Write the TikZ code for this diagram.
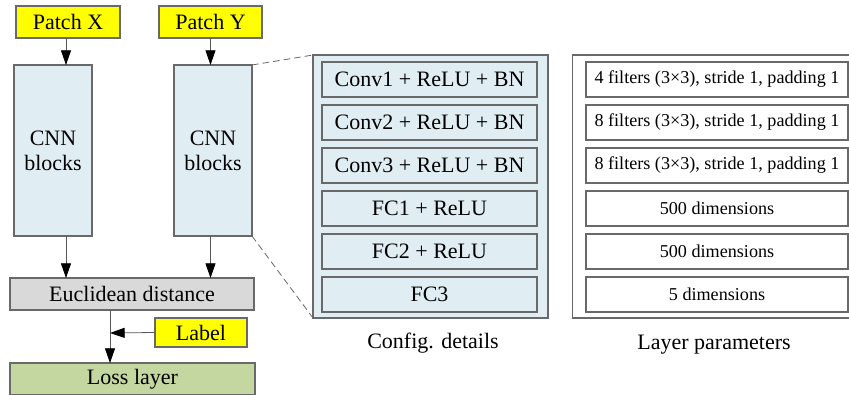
\documentclass[tikz,border=0pt]{standalone}
\usepackage{fontspec}
\setmainfont{Liberation Serif}
\usepackage{tikz}
\usetikzlibrary{arrows.meta}

\definecolor{patchyellow}{RGB}{255,255,0}
\definecolor{blockblue}{RGB}{224,238,244}
\definecolor{distgray}{RGB}{217,217,217}
\definecolor{lossgreen}{RGB}{197,215,160}
\definecolor{edgegray}{RGB}{105,105,105}

\tikzset{
  sz/.style 2 args={minimum width=#1*0.75pt,minimum height=#2*0.75pt},
  blk/.style={draw=edgegray,line width=0.8pt,inner sep=0pt,outer sep=0pt,align=center,
    font=\fontsize{16.5}{19}\selectfont},
  smallblk/.style={blk,font=\fontsize{13.6}{16}\selectfont},
  arr/.style={draw=black!65,line width=0.6pt,-{Triangle[length=11pt,width=7.5pt,fill=black,color=black]}},
  zoomline/.style={draw=black!60,line width=0.6pt,dash pattern=on 5pt off 3pt},
  caption/.style={font=\fontsize{16.5}{19}\selectfont,inner sep=0pt}
}

\begin{document}
\begin{tikzpicture}[x=0.75pt,y=0.75pt,yscale=-1,xscale=1]
\useasboundingbox (0,0) rectangle (849,395);

%Shape: patches and CNN blocks
\node (px) [blk,fill=patchyellow,sz={104}{32}] at (68,22) {Patch X};
\node (py) [blk,fill=patchyellow,sz={103}{32}] at (210.5,22) {Patch Y};
\node (cnnx) [blk,fill=blockblue,sz={78}{171}] at (53,150.5) {CNN\\blocks};
\node (cnny) [blk,fill=blockblue,sz={78}{171}] at (213,150.5) {CNN\\blocks};

%Shape: distance, label and loss
\node (eu) [blk,fill=distgray,sz={244}{32}] at (132,294) {Euclidean distance};
\node (lab) [blk,fill=patchyellow,sz={92}{29}] at (201,332.5) {Label};
\node (loss) [blk,fill=lossgreen,sz={245}{32}] at (132.5,379) {Loss layer};
\coordinate (jn) at (110,333);
\coordinate (ax) at (66,0);

%Straight Lines
\draw [arr] (px.south -| ax) -- (cnnx.north -| ax);
\draw [arr] (py.south) -- (py.south |- cnny.north);
\draw [arr] (cnnx.south -| ax) -- (eu.north -| ax);
\draw [arr] (py.south |- cnny.south) -- (py.south |- eu.north);
\draw [arr] (eu.south -| jn) -- (loss.north -| jn);
\draw [arr] (lab.west) -- (jn);

%Shape: config. details
\node (cfg) [blk,fill=blockblue,sz={235}{263}] at (430.5,186.5) {};
\foreach \i/\txt in {1/Conv1 + ReLU + BN,2/Conv2 + ReLU + BN,3/Conv3 + ReLU + BN,
                     4/FC1 + ReLU,5/FC2 + ReLU,6/FC3}
  \node (c\i) [blk,fill=blockblue,sz={215}{35}] at (429.5,36.5+43*\i) {\txt};
\node (cfgcap) [caption] at (433,343) {Config. details};

%Dashed Lines
\draw [zoomline] (cnny.north east) -- (cfg.north west);
\draw [zoomline] (cnny.south east) -- (cfg.south west);

%Shape: layer parameters
\node (par) [blk,fill=white,sz={289}{263}] at (717,186.5) {};
\foreach \i/\txt in {1/4 filters (3×3){,} stride 1{,} padding 1,
                     2/8 filters (3×3){,} stride 1{,} padding 1,
                     3/8 filters (3×3){,} stride 1{,} padding 1,
                     4/500 dimensions,5/500 dimensions,6/5 dimensions}
  \node (p\i) [smallblk,fill=white,sz={262}{35}] at (717,36.5+43*\i) {\txt};
\node (parcap) [caption] at (714,345) {Layer parameters};

\end{tikzpicture}
\end{document}
